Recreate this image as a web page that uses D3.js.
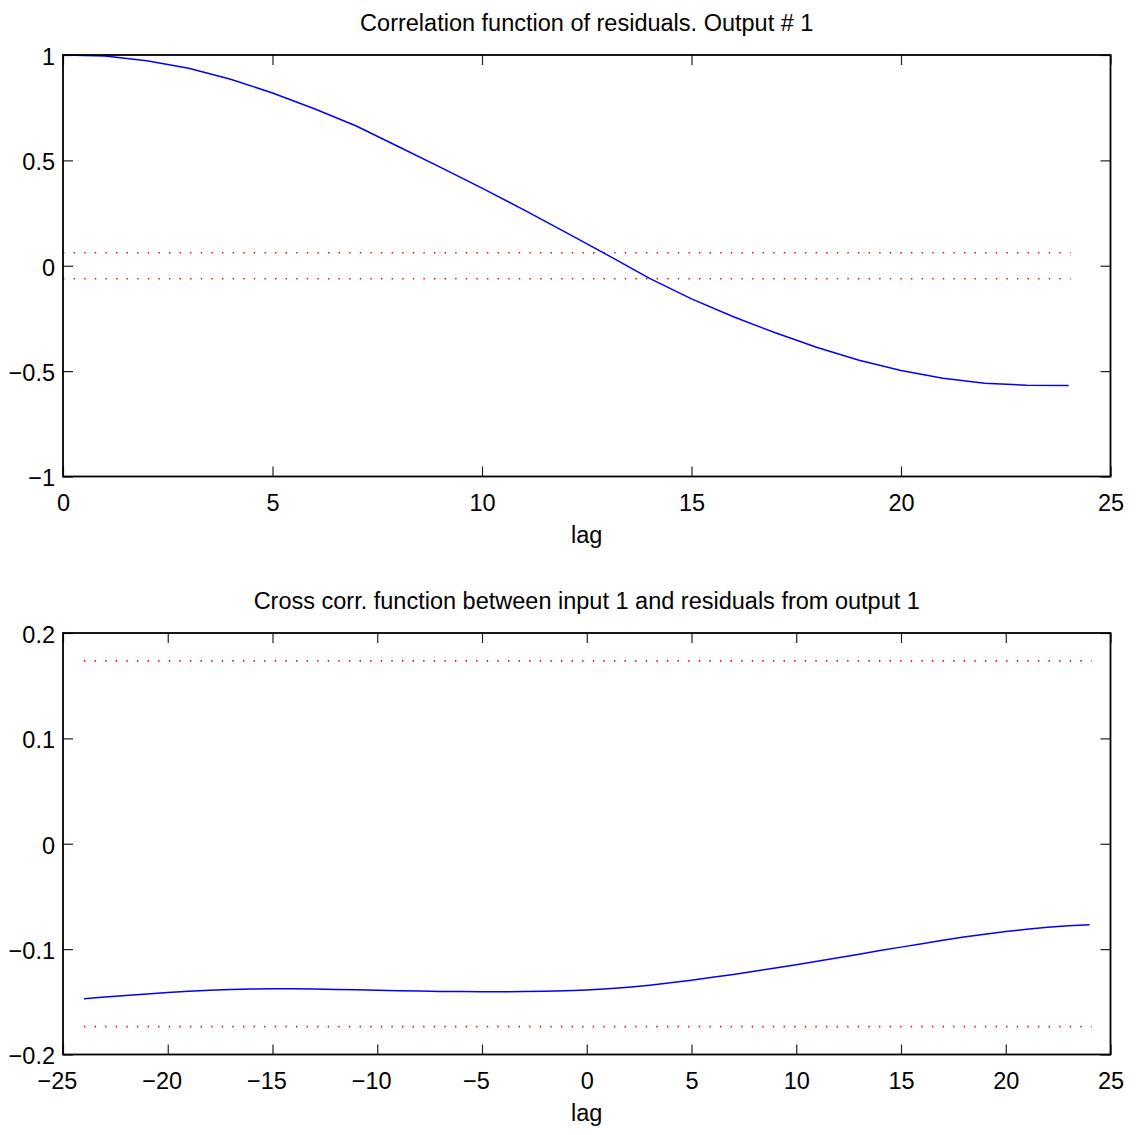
<!DOCTYPE html>
<html>
<head>
<meta charset="utf-8">
<script src="https://cdn.jsdelivr.net/npm/d3@7"></script>
<style>
  html, body { margin: 0; padding: 0; background: #fff; }
  svg { display: block; }
  text { font-family: "Liberation Sans", Arial, Helvetica, sans-serif; fill: #000; }
</style>
</head>
<body>
<svg id="chart" width="1137" height="1135"></svg>
<script>
// ---------- DATA ----------
const title1 = "Correlation function of residuals. Output # 1";
const title2 = "Cross corr. function between input 1 and residuals from output 1";
const xLabel = "lag";

const autoLags = [0,1,2,3,4,5,6,7,8,9,10,11,12,13,14,15,16,17,18,19,20,21,22,23,24];
const autoCorr = [1.000, 0.995, 0.973, 0.937, 0.885, 0.820, 0.745, 0.663, 0.566, 0.468,
                  0.368, 0.265, 0.158, 0.050, -0.060, -0.157, -0.242, -0.318, -0.388, -0.448,
                  -0.497, -0.534, -0.557, -0.567, -0.568];
const autoConf = 0.0616;   // confidence band ±

const crossLags = [-24,-23,-22,-21,-20,-19,-18,-17,-16,-15,-14,-13,-12,-11,-10,-9,-8,-7,-6,-5,-4,-3,-2,-1,
                   0,1,2,3,4,5,6,7,8,9,10,11,12,13,14,15,16,17,18,19,20,21,22,23,24];
const crossCorr = [-0.1470,-0.1455,-0.1440,-0.1425,-0.1412,-0.1400,-0.1390,-0.1383,-0.1378,-0.1376,
                   -0.1377,-0.1379,-0.1382,-0.1386,-0.1390,-0.1394,-0.1398,-0.1401,-0.1403,-0.1404,
                   -0.1404,-0.1403,-0.1400,-0.1395,-0.1388,-0.1377,-0.1362,-0.1343,-0.1320,-0.1295,
                   -0.1268,-0.1240,-0.1210,-0.1180,-0.1148,-0.1115,-0.1082,-0.1048,-0.1014,-0.0981,
                   -0.0948,-0.0916,-0.0886,-0.0858,-0.0833,-0.0811,-0.0793,-0.0778,-0.0768];
const crossConf = 0.1735;

const xTicks1 = [0,5,10,15,20,25];
const yTicks1 = [-1,-0.5,0,0.5,1];
const xTicks2 = [-25,-20,-15,-10,-5,0,5,10,15,20,25];
const yTicks2 = [-0.2,-0.1,0,0.1,0.2];

// ---------- DRAW ----------
const svg = d3.select("#chart");
const FS = 23.5;
const fmt = d3.format("");

function panel(opts) {
  const {left, right, top, bottom, xDomain, yDomain, xTicks, yTicks, lags, vals, conf, title} = opts;
  const x = d3.scaleLinear().domain(xDomain).range([left, right]);
  const y = d3.scaleLinear().domain(yDomain).range([bottom, top]);
  const g = svg.append("g");

  // confidence bands (red dotted)
  const lagExt = d3.extent(lags);
  [conf, -conf].forEach(c => {
    g.append("line")
      .attr("x1", x(lagExt[0])).attr("x2", x(lagExt[1]) + 2)
      .attr("y1", y(c)).attr("y2", y(c))
      .attr("stroke", "#ff0000").attr("stroke-width", 1.6)
      .attr("stroke-dasharray", "1.4,9.2");
  });

  // curve
  const line = d3.line().x((d, i) => x(lags[i])).y(d => y(d));
  g.append("path").datum(vals)
    .attr("d", line)
    .attr("fill", "none").attr("stroke", "#0000ff").attr("stroke-width", 1.5);

  // axes with inward ticks
  const tickStyle = sel => {
    sel.select(".domain").remove();
    sel.selectAll(".tick line").attr("stroke", "#222").attr("stroke-width", 1.2);
  };
  const gb = g.append("g").attr("transform", `translate(0,${bottom})`)
    .call(d3.axisBottom(x).tickValues(xTicks).tickSizeInner(-10).tickSizeOuter(0)
      .tickPadding(18).tickFormat(fmt));
  tickStyle(gb);
  gb.selectAll(".tick text").attr("font-size", FS).attr("fill", "#000")
    .attr("dx", d => d < 0 ? -6 : 0);

  const gt = g.append("g").attr("transform", `translate(0,${top})`)
    .call(d3.axisTop(x).tickValues(xTicks).tickSizeInner(-10).tickSizeOuter(0).tickFormat(""));
  tickStyle(gt);

  const gl = g.append("g").attr("transform", `translate(${left},0)`)
    .call(d3.axisLeft(y).tickValues(yTicks).tickSizeInner(-10).tickSizeOuter(0)
      .tickPadding(8).tickFormat(fmt));
  tickStyle(gl);
  gl.selectAll(".tick text").attr("font-size", FS).attr("fill", "#000").attr("dy", "0.4em");

  const gr = g.append("g").attr("transform", `translate(${right},0)`)
    .call(d3.axisRight(y).tickValues(yTicks).tickSizeInner(-10).tickSizeOuter(0).tickFormat(""));
  tickStyle(gr);

  // frame
  g.append("rect")
    .attr("x", left).attr("y", top)
    .attr("width", right - left).attr("height", bottom - top)
    .attr("fill", "none").attr("stroke", "#000").attr("stroke-width", 1.8);

  // title and label
  g.append("text").attr("x", (left + right) / 2).attr("y", top - 24)
    .attr("text-anchor", "middle").attr("font-size", FS).text(title);
  g.append("text").attr("x", (left + right) / 2).attr("y", bottom + 66)
    .attr("text-anchor", "middle").attr("font-size", FS).text(xLabel);
}

panel({left: 63, right: 1110.5, top: 55, bottom: 476.5,
       xDomain: [0, 25], yDomain: [-1, 1], xTicks: xTicks1, yTicks: yTicks1,
       lags: autoLags, vals: autoCorr, conf: autoConf, title: title1});
panel({left: 63, right: 1110.5, top: 633, bottom: 1054.5,
       xDomain: [-25, 25], yDomain: [-0.2, 0.2], xTicks: xTicks2, yTicks: yTicks2,
       lags: crossLags, vals: crossCorr, conf: crossConf, title: title2});
</script>
</body>
</html>
